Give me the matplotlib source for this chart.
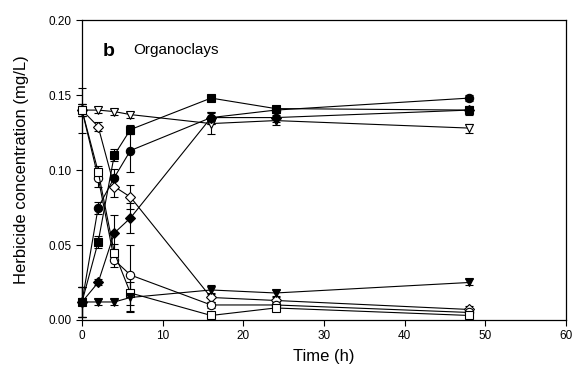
import matplotlib
matplotlib.use("Agg")
import matplotlib.pyplot as plt
import numpy as np

plt.rcParams['font.family'] = ['Liberation Sans', 'DejaVu Sans']

time_h = [0, 2, 4, 6, 16, 24, 48]

# open symbols (herbicide remaining in solution)
open_triangle = [0.140, 0.140, 0.139, 0.137, 0.131, 0.133, 0.128]
open_triangle_err = [0.015, 0.002, 0.002, 0.002, 0.007, 0.003, 0.003]
open_diamond = [0.140, 0.129, 0.089, 0.082, 0.015, 0.013, 0.007]
open_diamond_err = [0.004, 0.003, 0.007, 0.008, 0.003, 0.002, 0.002]
open_circle = [0.140, 0.095, 0.040, 0.030, 0.010, 0.010, 0.005]
open_circle_err = [0.004, 0.006, 0.005, 0.020, 0.002, 0.002, 0.002]
open_square = [0.140, 0.099, 0.045, 0.018, 0.003, 0.008, 0.003]
open_square_err = [0.004, 0.004, 0.006, 0.012, 0.002, 0.002, 0.002]

# filled symbols (herbicide sorbed)
filled_square = [0.012, 0.052, 0.110, 0.127, 0.148, 0.141, 0.140]
filled_square_err = [0.010, 0.004, 0.004, 0.003, 0.002, 0.002, 0.002]
filled_circle = [0.012, 0.075, 0.095, 0.113, 0.135, 0.140, 0.148]
filled_circle_err = [0.010, 0.004, 0.006, 0.014, 0.004, 0.003, 0.002]
filled_diamond = [0.012, 0.025, 0.058, 0.068, 0.135, 0.135, 0.140]
filled_diamond_err = [0.010, 0.002, 0.012, 0.010, 0.004, 0.003, 0.003]
filled_triangle = [0.012, 0.012, 0.012, 0.015, 0.020, 0.018, 0.025]
filled_triangle_err = [0.010, 0.002, 0.002, 0.010, 0.003, 0.002, 0.002]

fig = plt.figure(figsize=(5.72, 3.8), dpi=100)
ax = fig.add_axes([0.1434, 0.158, 0.846, 0.789])

series = [
    (open_triangle, open_triangle_err, 'v', 'white'),
    (open_diamond, open_diamond_err, 'D', 'white'),
    (open_circle, open_circle_err, 'o', 'white'),
    (open_square, open_square_err, 's', 'white'),
    (filled_square, filled_square_err, 's', 'black'),
    (filled_circle, filled_circle_err, 'o', 'black'),
    (filled_diamond, filled_diamond_err, 'D', 'black'),
    (filled_triangle, filled_triangle_err, 'v', 'black'),
]
for vals, err, mk, fc in series:
    ms = 5 if mk == 'D' else 6
    ax.errorbar(time_h, vals, yerr=err, color='black', lw=0.8, marker=mk,
                ms=ms, mfc=fc, mec='black', mew=0.8, capsize=3, elinewidth=0.8,
                capthick=0.8, clip_on=False, zorder=3)

ax.set_xlim(0, 60)
ax.set_ylim(0, 0.20)
ax.set_xticks([0, 10, 20, 30, 40, 50, 60])
ax.set_yticks([0.00, 0.05, 0.10, 0.15, 0.20])
ax.set_yticklabels(['0.00', '0.05', '0.10', '0.15', '0.20'])
ax.tick_params(direction='out', length=4, width=0.8, labelsize=8.5, colors='black')
for s in ax.spines.values():
    s.set_linewidth(0.9)

ax.set_xlabel('Time (h)', fontsize=12, labelpad=5)
ax.set_ylabel('Herbicide concentration (mg/L)', fontsize=12, labelpad=14)

ax.text(0.043, 0.895, 'b', transform=ax.transAxes, fontsize=14, fontweight='bold',
        va='center', ha='left')
ax.text(0.105, 0.9, 'Organoclays', transform=ax.transAxes, fontsize=11,
        va='center', ha='left')

fig.savefig('out.png', dpi=100)
